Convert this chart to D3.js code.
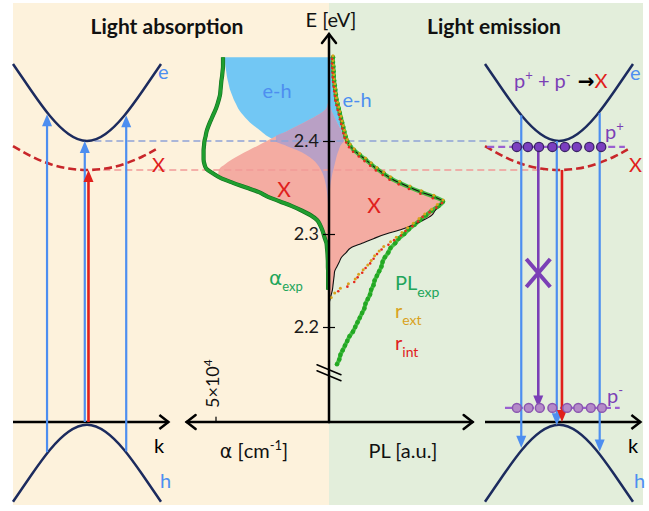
<!DOCTYPE html>
<html><head><meta charset="utf-8">
<script src="https://cdn.jsdelivr.net/npm/d3@7"></script>
<style>
html,body{margin:0;padding:0;background:#fff;}
svg{display:block;font-family:Lato,"Open Sans",sans-serif;}
</style></head><body>
<svg id="chart" width="649" height="511"></svg>
<script>
// ---- spectra: photon energy grid (eV) ----
const energies = [2.490,2.485,2.480,2.475,2.470,2.465,2.460,2.455,2.450,2.445,
  2.440,2.435,2.430,2.425,2.420,2.415,2.410,2.405,2.400,2.395,
  2.390,2.385,2.380,2.375,2.370,2.365,2.360,2.355,2.350,2.345,
  2.340,2.335,2.330,2.325,2.320,2.315,2.310,2.305,2.300,2.295,
  2.290,2.285,2.280,2.275,2.270,2.265,2.260,2.255,2.250,2.245,
  2.240,2.235,2.230,2.225,2.220,2.215,2.210,2.205,2.200,2.195,
  2.190,2.185,2.180,2.175,2.170,2.165,2.160];

// absorption coefficient, 10^4 cm^-1
const alphaExp = [4.69,4.69,4.69,4.71,4.73,4.76,4.78,4.80,4.82,4.87,
  4.93,5.00,5.09,5.18,5.27,5.35,5.42,5.46,5.51,5.53,
  5.55,5.55,5.55,5.51,5.42,5.13,4.78,4.25,3.67,3.10,
  2.70,2.17,1.64,1.19,0.80,0.53,0.40,0.31,0.24,0.18,
  0.11,0.09,0.07,0.06,0.05,0.05,0.04,0.04,0.04,0.04,0.04];
const alphaX = [0,0,0,0,0,0,0,0,0,0.02,
  0.05,0.12,0.35,0.70,1.10,1.50,1.90,2.35,2.75,3.15,
  3.55,3.95,4.30,4.60,4.85,4.90,4.60,4.10,3.55,3.00,
  2.60,2.10,1.60,1.15,0.78,0.52,0.39,0.30,0.23,0.17,
  0.10,0.06,0.03,0.01,0];
const alphaEH = [4.60,4.60,4.58,4.55,4.52,4.48,4.43,4.38,4.30,4.22,
  4.12,4.02,3.88,3.70,3.50,3.25,2.98,2.72,2.35,1.90,
  1.40,1.00,0.72,0.52,0.38,0.28,0.21,0.16,0.12,0.09,
  0.07,0.05,0.035,0.02,0.01,0];

// photoluminescence, normalised
const plExp = [0.035,0.035,0.038,0.040,0.042,0.045,0.050,0.055,0.060,0.065,
  0.075,0.085,0.095,0.105,0.115,0.125,0.135,0.145,0.160,0.185,
  0.22,0.27,0.32,0.37,0.42,0.48,0.54,0.62,0.71,0.81,
  0.92,1.00,0.96,0.90,0.85,0.80,0.75,0.70,0.66,0.61,
  0.58,0.54,0.52,0.49,0.47,0.46,0.44,0.42,0.40,0.39,
  0.37,0.36,0.34,0.32,0.31,0.29,0.27,0.25,0.23,0.21,
  0.18,0.16,0.14,0.12,0.10,0.09,0.07];
const rExt = [0.035,0.035,0.038,0.040,0.042,0.045,0.050,0.055,0.060,0.065,
  0.075,0.085,0.095,0.105,0.115,0.125,0.135,0.145,0.160,0.185,
  0.22,0.27,0.32,0.37,0.42,0.48,0.54,0.62,0.71,0.81,
  0.92,1.00,0.95,0.90,0.84,0.79,0.74,0.69,0.64,0.59,
  0.54,0.48,0.44,0.40,0.37,0.34,0.30,0.26,0.23,0.17,
  0.10,0.05,0.02];
const rInt = [0.035,0.035,0.038,0.040,0.042,0.045,0.050,0.055,0.060,0.065,
  0.075,0.085,0.095,0.105,0.115,0.125,0.135,0.145,0.160,0.185,
  0.22,0.27,0.32,0.37,0.42,0.48,0.54,0.62,0.71,0.81,
  0.92,1.00,0.95,0.89,0.83,0.79,0.74,0.68,0.64,0.58,
  0.53,0.47,0.43,0.40,0.37,0.33,0.30,0.26,0.23,0.17,
  0.09];
const plModel = [0.035,0.035,0.038,0.040,0.042,0.045,0.050,0.055,0.060,0.065,
  0.075,0.085,0.095,0.105,0.115,0.125,0.135,0.145,0.160,0.185,
  0.22,0.27,0.32,0.37,0.42,0.48,0.54,0.62,0.71,0.81,
  0.92,1.00,0.96,0.93,0.90,0.83,0.74,0.64,0.50,0.39,
  0.29,0.19,0.15,0.11,0.09,0.07,0.05,0.045,0.04,0.035,
  0.03,0.02,0.01,0];
const plX = [0,0,0,0,0,0,0,0,0,0,
  0.005,0.015,0.03,0.05,0.07,0.09,0.11,0.13,0.160,0.185,
  0.22,0.27,0.32,0.37,0.42,0.48,0.54,0.62,0.71,0.81,
  0.92,1.00,0.96,0.93,0.90,0.83,0.74,0.64,0.50,0.39,
  0.29,0.19,0.15,0.11,0.09,0.07,0.05,0.045,0.04,0.035,
  0.03,0.02,0.01,0];
const plEH = [0.035,0.035,0.038,0.040,0.042,0.045,0.050,0.055,0.060,0.065,
  0.075,0.085,0.095,0.105,0.115,0.125,0.135,0.140,0.130,0.100,
  0.085,0.070,0.060,0.050,0.040,0.030,0.022,0.015,0.010,0.005,0];

const energyTicks = [2.2, 2.3, 2.4];
const alphaTick = 5;

// ---- band schematics (energy in units of the gap, k normalised) ----
const bandK = [-1,-0.75,-0.5,-0.25,0,0.25,0.5,0.75,1];
const conductionE = [1.274,1.178,1.089,1.025,1.0,1.025,1.089,1.178,1.274];
const valenceE = [-0.284,-0.188,-0.099,-0.035,-0.01,-0.035,-0.099,-0.188,-0.284];
const excitonK = [-1,-0.75,-0.5,-0.25,0,0.25,0.5,0.75,0.93];
const excitonE = [0.982,0.945,0.918,0.902,0.897,0.902,0.918,0.945,0.970];
const excitonLevel = 0.897;
// absorption: upward transitions
const absK = [-0.54,-0.03,0.53,0.02];
const absFrom = [-0.107,0,-0.104,0];
const absTo = [1.095,1.0,1.092,0.897];
const absKind = ["band","band","band","exciton"];
// emission: downward transitions
const emK = [-0.51,-0.03,0.55,-0.28,0.04];
const emFrom = [1.092,1.0,1.100,0.979,0.897];
const emTo = [-0.092,-0.012,-0.105,0.052,0];
const emKind = ["band","band","band","polaron","exciton"];
const pPlusLevel = 0.979, pMinusLevel = 0.050;
const pPlusK = [-0.57,-0.42,-0.27,-0.09,0.08,0.24,0.41,0.57];
const pMinusK = [-0.57,-0.41,-0.26,-0.09,0.11,0.26,0.43,0.58];

// ---- colours ----
const C = {
  beige:"#fdf2dc", mint:"#e3eedb", navy:"#1c2b5e", blue:"#4d8ef0",
  red:"#e0201c", redDash:"#c8262a", purple:"#7b3fb6", green:"#1f9e2f",
  greenLabel:"#21a55a", orange:"#d9a21c", fillBlue:"#72c7f4",
  fillPink:"#f4aca2", fillMix:"#b9a0c5", dashBlue:"#8fa2d6", dashPink:"#f19a98"
};
const GREEK = "'DejaVu Sans',sans-serif";

const svg = d3.select("#chart");

// scales
const yE = d3.scaleLinear().domain([2.4, 2.2]).range([141, 327]);
const xAlpha = d3.scaleLinear().domain([0, 5]).range([329, 216]);
const xPL = d3.scaleLinear().domain([0, 1]).range([329, 443]);
const yBand = d3.scaleLinear().domain([0, 1]).range([422, 141]);
const kLeft = d3.scaleLinear().domain([-1, 1]).range([13, 161]);
const kRight = d3.scaleLinear().domain([-1, 1]).range([485, 633]);
const x0 = xAlpha(0), yAxis = yBand(0);

// backgrounds
svg.append("rect").attr("x",13).attr("y",3).attr("width",x0-13).attr("height",502).attr("fill",C.beige);
svg.append("rect").attr("x",x0).attr("y",3).attr("width",643-x0).attr("height",502).attr("fill",C.mint);

const rows = energies.map((e,i)=>({e,
  aExp:alphaExp[i], aX:alphaX[i], aEH:alphaEH[i],
  exp:plExp[i], ext:rExt[i], int:rInt[i], model:plModel[i], pX:plX[i], pEH:plEH[i]}));
const has = k => d => d[k] != null;

// filled spectral components
function vArea(xs, getter, def){
  return d3.area().defined(def).y(d=>yE(d.e)).x0(xs(0)).x1(d=>xs(getter(d))).curve(d3.curveMonotoneY);
}
const g = svg.append("g");
g.append("path").datum(rows).attr("fill",C.fillBlue).attr("d",vArea(xAlpha,d=>d.aEH,has("aEH")));
g.append("path").datum(rows).attr("fill",C.fillPink).attr("d",vArea(xAlpha,d=>d.aX,has("aX")));
g.append("path").datum(rows).attr("fill",C.fillMix)
  .attr("d",vArea(xAlpha,d=>Math.min(d.aX,d.aEH),d=>d.aX!=null&&d.aEH!=null));
g.append("path").datum(rows).attr("fill",C.fillBlue).attr("d",vArea(xPL,d=>d.pEH,has("pEH")));
g.append("path").datum(rows).attr("fill",C.fillPink).attr("d",vArea(xPL,d=>d.pX,has("pX")));
g.append("path").datum(rows).attr("fill",C.fillMix)
  .attr("d",vArea(xPL,d=>Math.min(d.pX,d.pEH),d=>d.pX!=null&&d.pEH!=null));

// level guides
const guides = svg.append("g").attr("fill","none").attr("stroke-width",1.6).attr("stroke-dasharray","7,4");
guides.append("line").attr("x1",kLeft(0.1)).attr("x2",kRight(-0.52)).attr("y1",yBand(1)).attr("y2",yBand(1)).attr("stroke",C.dashBlue);
guides.append("line").attr("x1",kLeft(0.22)).attr("x2",kRight(-0.2)).attr("y1",yBand(excitonLevel)).attr("y2",yBand(excitonLevel)).attr("stroke",C.dashPink);

// absorption curve
const lineA = d3.line().defined(has("aExp")).x(d=>xAlpha(d.aExp)).y(d=>yE(d.e)).curve(d3.curveMonotoneY);
svg.append("path").datum(rows).attr("fill","none").attr("stroke","#15701f").attr("stroke-width",4.2).attr("d",lineA);
svg.append("path").datum(rows).attr("fill","none").attr("stroke",C.green).attr("stroke-width",3).attr("d",lineA);

// PL: experiment, model and radiative rates
const lineP = k => d3.line().defined(has(k)).x(d=>xPL(d[k])).y(d=>yE(d.e)).curve(d3.curveMonotoneY);
svg.append("path").datum(rows).attr("fill","none").attr("stroke","#2db52d").attr("stroke-width",4).attr("stroke-opacity",0.85).attr("d",lineP("exp"));
svg.append("path").datum(rows).attr("fill","none").attr("stroke","#111").attr("stroke-width",1.1).attr("d",lineP("model"));
svg.selectAll(".dexp").data(rows.filter(has("exp"))).join("circle")
  .attr("cx",d=>xPL(d.exp)).attr("cy",d=>yE(d.e)).attr("r",2.3).attr("fill","#23a823");
svg.selectAll(".dext").data(rows.filter(has("ext"))).join("circle")
  .attr("cx",d=>xPL(d.ext)).attr("cy",d=>yE(d.e)-1.5).attr("r",1.5).attr("fill",C.orange);
svg.selectAll(".dint").data(rows.filter(has("int"))).join("circle")
  .attr("cx",d=>xPL(d.int)-1).attr("cy",d=>yE(d.e)+1.5).attr("r",1.3).attr("fill","#e52a1f");

// central axes
const ax = svg.append("g").attr("stroke","#000").attr("fill","none").attr("stroke-linecap","round");
const eTop = 2.515, eBreak = 2.154;
ax.append("line").attr("x1",x0).attr("x2",x0).attr("y1",yAxis).attr("y2",yE(eTop)).attr("stroke-width",2.5);
ax.append("path").attr("stroke-width",2.5).attr("d",`M${x0-7},${yE(eTop)+9}L${x0},${yE(eTop)}L${x0+7},${yE(eTop)+9}`);
ax.append("line").attr("x1",x0).attr("x2",xAlpha(6.3)).attr("y1",yAxis).attr("y2",yAxis).attr("stroke-width",2.5);
ax.append("path").attr("stroke-width",2.5).attr("d",`M${xAlpha(6.3)+9},${yAxis-7}L${xAlpha(6.3)},${yAxis}L${xAlpha(6.3)+9},${yAxis+7}`);
ax.append("line").attr("x1",x0).attr("x2",xPL(1.26)).attr("y1",yAxis).attr("y2",yAxis).attr("stroke-width",2.5);
ax.append("path").attr("stroke-width",2.5).attr("d",`M${xPL(1.26)-9},${yAxis-7}L${xPL(1.26)},${yAxis}L${xPL(1.26)-9},${yAxis+7}`);
ax.append("line").attr("x1",xAlpha(alphaTick)).attr("x2",xAlpha(alphaTick)).attr("y1",yAxis-5).attr("y2",yAxis).attr("stroke-width",1.2);
// axis break
[0,6].forEach(o=>ax.append("line").attr("x1",x0-12).attr("x2",x0+12).attr("y1",yE(eBreak)-5+o).attr("y2",yE(eBreak)+5+o).attr("stroke-width",1.5));

const yAx = d3.axisLeft(yE).tickValues(energyTicks).tickSize(6).tickPadding(4).tickFormat(d3.format(".1f"));
const ya = svg.append("g").attr("transform",`translate(${x0},0)`).call(yAx);
ya.select(".domain").remove();
ya.selectAll(".tick line").attr("x1",6).attr("x2",-6).attr("stroke","#000").attr("stroke-width",1.2);
ya.selectAll(".tick text").attr("font-family","Lato").attr("font-size",18).attr("fill","#1a1a1a").attr("x",-10);

// band schematic helpers
function arrowHead(sel,x,y,dir,color){
  const w=5,h=12*dir;
  sel.append("path").attr("d",`M${x},${y}L${x-w},${y+h}L${x+w},${y+h}Z`).attr("fill",color);
}
function vArrow(sel,x,yFrom,yTo,color,width){
  const dir = yTo<yFrom ? 1 : -1;
  sel.append("line").attr("x1",x).attr("x2",x).attr("y1",yFrom).attr("y2",yTo+dir*10).attr("stroke",color).attr("stroke-width",width);
  arrowHead(sel,x,yTo,dir,color);
}
function bands(kx, sel){
  const ln = (ks,es)=>d3.line().x((d,i)=>kx(ks[i])).y((d,i)=>yBand(es[i])).curve(d3.curveNatural)(ks);
  sel.append("path").attr("d",ln(bandK,conductionE)).attr("fill","none").attr("stroke",C.navy).attr("stroke-width",2.5);
  sel.append("path").attr("d",ln(bandK,valenceE)).attr("fill","none").attr("stroke",C.navy).attr("stroke-width",2.5);
  sel.append("path").attr("d",ln(excitonK,excitonE)).attr("fill","none").attr("stroke",C.redDash).attr("stroke-width",2.6).attr("stroke-dasharray","8,4");
  sel.append("line").attr("x1",kx(-1)).attr("x2",kx(1.1)).attr("y1",yAxis).attr("y2",yAxis).attr("stroke","#000").attr("stroke-width",2.5);
  sel.append("path").attr("d",`M${kx(1.1)-9},${yAxis-7}L${kx(1.1)},${yAxis}L${kx(1.1)-9},${yAxis+7}`).attr("fill","none").attr("stroke","#000").attr("stroke-width",2.5);
}

// left: absorption
const L = svg.append("g");
bands(kLeft, L);
absK.forEach((k,i)=>{
  const col = absKind[i]==="exciton" ? C.red : C.blue;
  vArrow(L,kLeft(k),yBand(absFrom[i]),yBand(absTo[i]),col,absKind[i]==="exciton"?2.6:2.2);
});

// right: emission
const R = svg.append("g");
bands(kRight, R);
R.append("line").attr("x1",kRight(-0.97)).attr("x2",kRight(0.89)).attr("y1",yBand(pPlusLevel)).attr("y2",yBand(pPlusLevel))
  .attr("stroke","#9a5fd0").attr("stroke-width",2.2).attr("stroke-dasharray","7,4");
R.append("line").attr("x1",kRight(-0.73)).attr("x2",kRight(0.82)).attr("y1",yBand(pMinusLevel)).attr("y2",yBand(pMinusLevel))
  .attr("stroke","#9a5fd0").attr("stroke-width",2.2).attr("stroke-dasharray","7,4");
emK.forEach((k,i)=>{
  const col = emKind[i]==="exciton" ? C.red : emKind[i]==="polaron" ? C.purple : C.blue;
  vArrow(R,kRight(k),yBand(emFrom[i]),yBand(emTo[i]),col,emKind[i]==="band"?2.2:2.6);
});
R.selectAll(".pp").data(pPlusK).join("circle").attr("cx",d=>kRight(d)).attr("cy",yBand(pPlusLevel)).attr("r",4.6)
  .attr("fill","#7b3fc0").attr("stroke","#3b2466").attr("stroke-width",1.3);
R.selectAll(".pm").data(pMinusK).join("circle").attr("cx",d=>kRight(d)).attr("cy",yBand(pMinusLevel)).attr("r",4.4)
  .attr("fill","#b48ac8").attr("stroke","#8a55b0").attr("stroke-width",1.5);
// forbidden polaron-pair transition
const xc = kRight(-0.28), yc = yBand(0.53);
R.append("path").attr("d",`M${xc-12},${yc-14}L${xc+12},${yc+14}M${xc+12},${yc-14}L${xc-12},${yc+14}`)
  .attr("stroke",C.purple).attr("stroke-width",4).attr("fill","none");

// text
function txt(x,y,s,opt={}){
  return svg.append("text").attr("x",x).attr("y",y).text(s)
    .attr("font-size",opt.size||18).attr("fill",opt.color||"#000")
    .attr("font-weight",opt.weight||"normal").attr("text-anchor",opt.anchor||"start");
}
txt(167,34,"Light absorption",{size:21,weight:"bold",anchor:"middle",color:"#111"});
txt(494,34,"Light emission",{size:21,weight:"bold",anchor:"middle",color:"#111"});
txt(331,27,"E [eV]",{size:20,anchor:"middle",color:"#111"});

txt(158,79,"e",{color:C.blue,size:20});
txt(630,80,"e",{color:C.blue,size:20});
txt(160,488,"h",{color:C.blue,size:20});
txt(634,488,"h",{color:C.blue,size:20});
txt(154,453,"k",{size:20});
txt(628,453,"k",{size:20});
txt(152,172,"X",{color:C.red,size:20});
txt(629,172,"X",{color:C.red,size:20});
txt(277,98,"e-h",{color:C.blue,size:20,anchor:"middle"});
txt(357,107,"e-h",{color:C.blue,size:20,anchor:"middle"});
txt(284,197,"X",{color:C.red,size:21,anchor:"middle"});
txt(374,213,"X",{color:C.red,size:21,anchor:"middle"});

// p+ / p- labels
let t = txt(605,139,"p",{color:C.purple,size:20});
t.append("tspan").attr("dy",-8).attr("font-size",13).text("+");
t = txt(607,403,"p",{color:C.purple,size:20});
t.append("tspan").attr("dy",-8).attr("font-size",13).text("-");
t = txt(514,88,"p",{color:C.purple,size:20});
t.append("tspan").attr("dy",-8).attr("font-size",13).text("+");
t.append("tspan").attr("dy",8).text(" + p");
t.append("tspan").attr("dy",-8).attr("font-size",13).text("-");
t.append("tspan").attr("dy",8).attr("fill","#000").attr("font-family","DejaVu Sans").attr("font-weight","bold").text(" →");
t.append("tspan").attr("fill",C.red).text("X");

// series labels
t = txt(269,285,"α",{color:C.greenLabel,size:20});
t.attr("font-family",GREEK);
t.append("tspan").attr("dy",6).attr("font-size",13).attr("font-family","Lato").text("exp");
t = txt(395,290,"PL",{color:C.greenLabel,size:20});
t.append("tspan").attr("dy",7).attr("font-size",14).text("exp");
t = txt(395,318,"r",{color:C.orange,size:20});
t.append("tspan").attr("dy",7).attr("font-size",14).text("ext");
t = txt(395,350,"r",{color:C.red,size:20});
t.append("tspan").attr("dy",7).attr("font-size",14).text("int");

// axis titles
t = svg.append("text").attr("x",254).attr("y",458).attr("text-anchor","middle").attr("font-size",20).attr("fill","#111");
t.append("tspan").attr("font-family",GREEK).attr("font-size",19).text("α");
t.append("tspan").text(" [cm");
t.append("tspan").attr("dy",-8).attr("font-size",13).text("-1");
t.append("tspan").attr("dy",8).text("]");
txt(403,458,"PL [a.u.]",{size:20,anchor:"middle",color:"#111"});
t = svg.append("text").attr("transform",`translate(${xAlpha(alphaTick)+3},${yAxis-14}) rotate(-90)`)
  .attr("font-size",18).attr("fill","#111").text("5×10");
t.append("tspan").attr("dy",-7).attr("font-size",12).text("4");
</script>
</body></html>
